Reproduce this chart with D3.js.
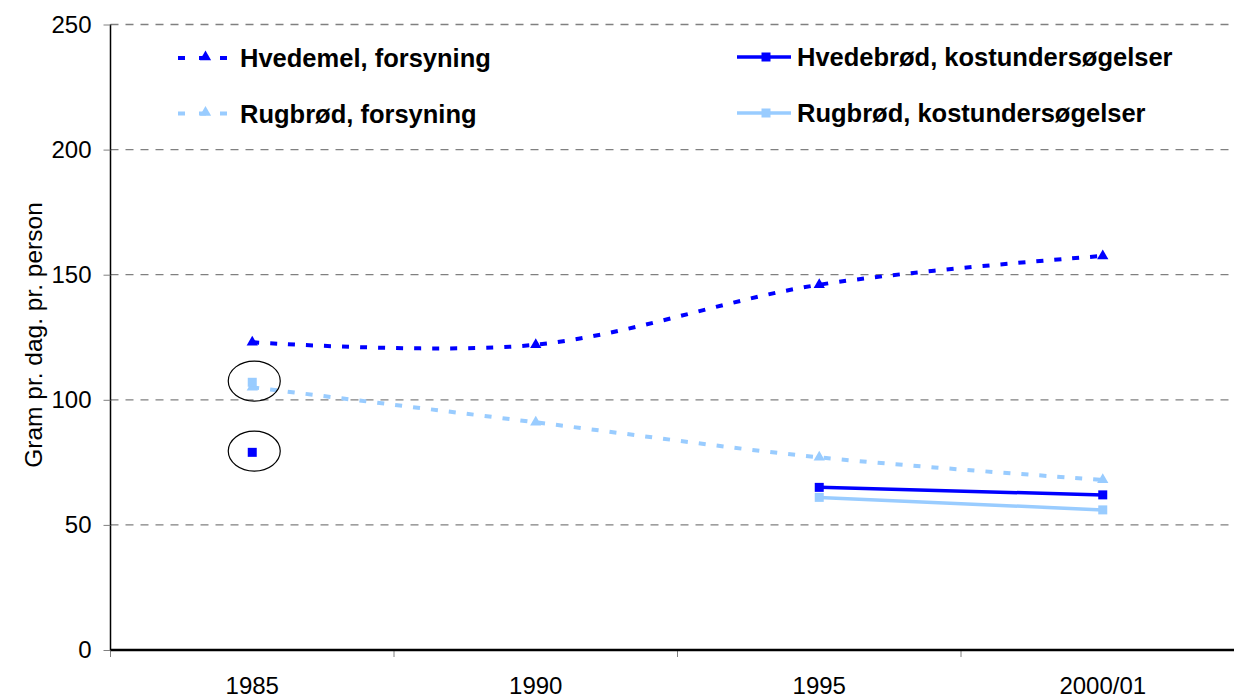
<!DOCTYPE html>
<html><head><meta charset="utf-8">
<script src="https://cdn.jsdelivr.net/npm/d3@7"></script>
<style>body{margin:0;background:#fff}svg{display:block;font-family:Arial,"Liberation Sans",sans-serif}</style>
</head><body><svg id="c" width="1234" height="698"></svg>
<script>
const categories = ["1985", "1990", "1995", "2000/01"];
const yTicks = [0, 50, 100, 150, 200, 250];
const hvedemelForsyning = [123, 122, 146, 157.5];
const rugbrodForsyning = [105, 91, 77, 68];
const hvedebrodKost = [79, null, 65, 62];
const rugbrodKost = [107, null, 61, 56];
const seriesNames = ["Hvedemel, forsyning", "Rugbrød, forsyning", "Hvedebrød, kostundersøgelser", "Rugbrød, kostundersøgelser"];
const circled = [{cat: "1985", value: 107.5}, {cat: "1985", value: 79.5}];
const yTitle = "Gram pr. dag. pr. person";

(function () {
const svg = d3.select("#c");
const pLeft = 110.5, pTop = 24.5, pBottom = 650, band = 283.5;
const x = d3.scaleBand().domain(categories).range([pLeft, pLeft + band * categories.length]);
const y = d3.scaleLinear().domain([0, 250]).range([pBottom, pTop]);
const cx = c => x(c) + x.bandwidth() / 2;

const dark = "#0000FF", light = "#99CCFF";

// grid
svg.append("g").selectAll("line").data(yTicks.filter(d => d > 0)).join("line")
  .attr("x1", pLeft).attr("x2", 1234).attr("y1", d => y(d)).attr("y2", d => y(d))
  .attr("stroke", "#808080").attr("stroke-width", 1.3).attr("stroke-dasharray", "8,7");

// y axis
const ya = svg.append("g").attr("transform", `translate(${pLeft},0)`)
  .call(d3.axisLeft(y).tickValues(yTicks).tickSize(7).tickPadding(12).tickFormat(d3.format("d")));
ya.select(".domain").attr("stroke", "#000").attr("stroke-width", 1.5).attr("d", `M0,${pTop}V${pBottom}`);
ya.selectAll(".tick line").attr("stroke", "#808080");
ya.selectAll(".tick text").attr("font-size", 24).attr("fill", "#000").attr("font-family", "Arial,'Liberation Sans',sans-serif");

// x axis
const xa = svg.append("g").attr("transform", `translate(0,${pBottom})`)
  .call(d3.axisBottom(x).tickSize(0).tickPadding(27));
xa.select(".domain").remove();
xa.selectAll(".tick text").attr("font-size", 24).attr("fill", "#000").attr("font-family", "Arial,'Liberation Sans',sans-serif");
svg.append("g").selectAll("line").data(d3.range(categories.length)).join("line")
  .attr("x1", i => x(categories[i])).attr("x2", i => x(categories[i]))
  .attr("y1", pBottom).attr("y2", pBottom + 7).attr("stroke", "#808080").attr("stroke-width", 1);
svg.append("line").attr("x1", pLeft).attr("x2", 1234).attr("y1", pBottom).attr("y2", pBottom)
  .attr("stroke", "#000").attr("stroke-width", 2.5);

// y title
svg.append("text").attr("transform", `translate(42,335) rotate(-90)`).attr("text-anchor", "middle")
  .attr("font-size", 24.5).attr("fill", "#000").text(yTitle);

// series
const curveLine = d3.line().defined(d => d.v != null).x(d => cx(d.c)).y(d => y(d.v)).curve(d3.curveCardinal.tension(0));
const straight = d3.line().defined(d => d.v != null).x(d => cx(d.c)).y(d => y(d.v));
const toPts = arr => categories.map((c, i) => ({c, v: arr[i]}));
const tri = d3.symbol().type(d3.symbolTriangle).size(55);

function drawSeries(arr, color, dashed, marker) {
  const pts = toPts(arr);
  if (dashed) {
    svg.append("path").attr("d", curveLine(pts)).attr("fill", "none").attr("stroke", color)
      .attr("stroke-width", 4).attr("stroke-dasharray", "7,11");
  } else {
    svg.append("path").attr("d", straight(pts)).attr("fill", "none").attr("stroke", color).attr("stroke-width", 3.5);
  }
  const g = svg.append("g");
  pts.filter(d => d.v != null).forEach(d => {
    if (marker === "tri") g.append("path").attr("d", tri).attr("transform", `translate(${cx(d.c)},${y(d.v)})`).attr("fill", color);
    else g.append("rect").attr("x", cx(d.c) - 4.5).attr("y", y(d.v) - 4.5).attr("width", 9).attr("height", 9).attr("fill", color);
  });
}
drawSeries(hvedemelForsyning, dark, true, "tri");
drawSeries(rugbrodForsyning, light, true, "tri");
drawSeries(hvedebrodKost, dark, false, "sq");
drawSeries(rugbrodKost, light, false, "sq");

// ellipses
svg.append("g").selectAll("ellipse").data(circled).join("ellipse")
  .attr("cx", d => cx(d.cat) + 2).attr("cy", d => y(d.value)).attr("rx", 26).attr("ry", 20)
  .attr("fill", "none").attr("stroke", "#000").attr("stroke-width", 1.2);

// legend
const legend = [
  {name: seriesNames[0], color: dark, dashed: true, marker: "tri", lx: 178, tx: 240, ly: 58},
  {name: seriesNames[1], color: light, dashed: true, marker: "tri", lx: 178, tx: 240, ly: 113.5},
  {name: seriesNames[2], color: dark, dashed: false, marker: "sq", lx: 737, tx: 797, ly: 57},
  {name: seriesNames[3], color: light, dashed: false, marker: "sq", lx: 737, tx: 797, ly: 113}
];
legend.forEach(l => {
  const g = svg.append("g");
  const w = l.dashed ? 49 : 54;
  g.append("line").attr("x1", l.lx).attr("x2", l.lx + w).attr("y1", l.ly).attr("y2", l.ly)
    .attr("stroke", l.color).attr("stroke-width", l.dashed ? 4 : 3.5).attr("stroke-dasharray", l.dashed ? "7,14" : null);
  const mx = l.lx + w / 2 + (l.dashed ? 3 : 2);
  if (l.marker === "tri") g.append("path").attr("d", tri).attr("transform", `translate(${mx},${l.ly - 1})`).attr("fill", l.color);
  else g.append("rect").attr("x", mx - 4.5).attr("y", l.ly - 4.5).attr("width", 9).attr("height", 9).attr("fill", l.color);
  g.append("text").attr("x", l.tx).attr("y", l.ly + 9).attr("font-size", 25.5).attr("font-weight", "bold").attr("fill", "#000").text(l.name);
});
})();
</script></body></html>
